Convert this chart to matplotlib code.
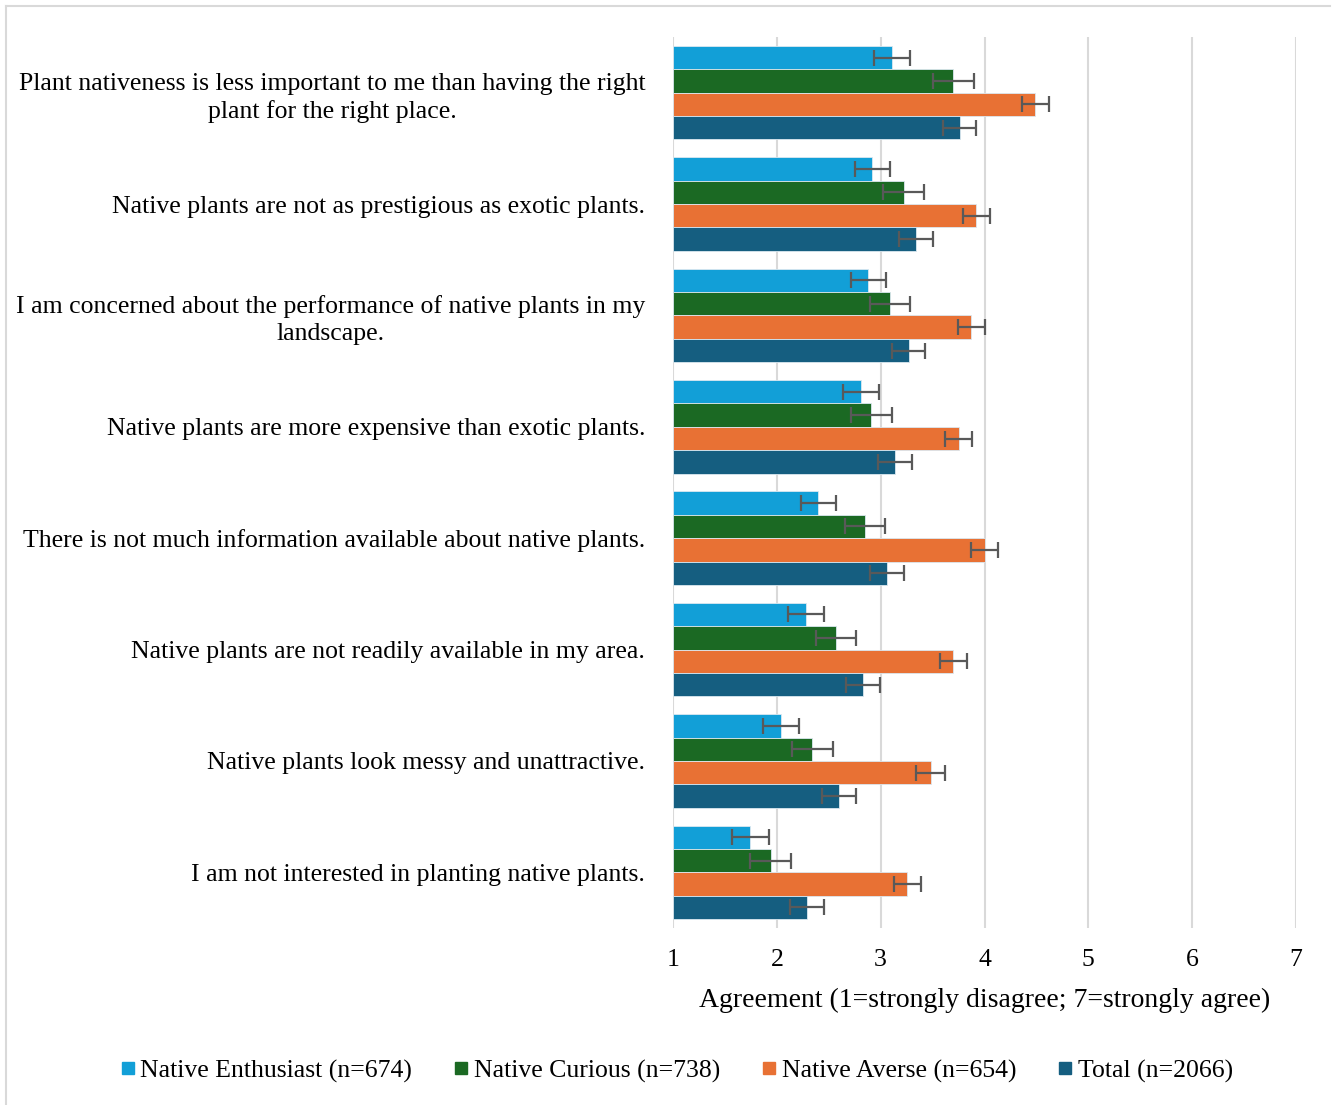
import matplotlib
matplotlib.use("Agg")
import matplotlib.pyplot as plt
import numpy as np
from matplotlib.lines import Line2D

plt.rcParams['font.family'] = ['Liberation Serif', 'DejaVu Serif']

statements = [
    "Plant nativeness is less important to me than having the right\nplant for the right place.",
    "Native plants are not as prestigious as exotic plants.",
    "I am concerned about the performance of native plants in my\nlandscape.",
    "Native plants are more expensive than exotic plants.",
    "There is not much information available about native plants.",
    "Native plants are not readily available in my area.",
    "Native plants look messy and unattractive.",
    "I am not interested in planting native plants.",
]
series_names = ["Native Enthusiast (n=674)", "Native Curious (n=738)",
                "Native Averse (n=654)", "Total (n=2066)"]
enthusiast = [3.11, 2.92, 2.88, 2.81, 2.40, 2.28, 2.04, 1.745]
curious = [3.70, 3.22, 3.09, 2.91, 2.85, 2.57, 2.34, 1.94]
averse = [4.49, 3.92, 3.87, 3.75, 4.00, 3.70, 3.48, 3.255]
total = [3.76, 3.34, 3.27, 3.14, 3.06, 2.83, 2.60, 2.29]
err_enthusiast = [0.17, 0.17, 0.17, 0.17, 0.17, 0.17, 0.17, 0.175]
err_curious = [0.195, 0.195, 0.195, 0.195, 0.195, 0.195, 0.197, 0.195]
err_averse = [0.13, 0.13, 0.13, 0.13, 0.13, 0.13, 0.135, 0.13]
err_total = [0.16, 0.16, 0.16, 0.165, 0.165, 0.165, 0.167, 0.165]
x_ticks = [1, 2, 3, 4, 5, 6, 7]
x_label = "Agreement (1=strongly disagree; 7=strongly agree)"

colors = ["#129FD7", "#1B6923", "#E87134", "#155E80"]
values = [enthusiast, curious, averse, total]
errors = [err_enthusiast, err_curious, err_averse, err_total]

W, H = 1333, 1105
fig = plt.figure(figsize=(W / 100, H / 100), dpi=100)
ax = fig.add_axes([673 / W, 1 - 928 / H, (1296 - 673) / W, (928 - 37) / H])

n = len(statements)
y = np.arange(n)
bh = 0.21
for i, (vals, errs, c, name) in enumerate(zip(values, errors, colors, series_names)):
    pos = y + (i - 1.5) * bh
    widths = np.array(vals) - 1
    ax.barh(pos, widths, left=1, height=bh, color=c, edgecolor='#dbe8f0',
            linewidth=0.6, label=name, zorder=2)
    ax.errorbar(vals, pos, xerr=errs, fmt='none', ecolor='#595959',
                elinewidth=1.6, capsize=6, capthick=1.6, zorder=3)

FS = 18.5
ax.set_xlim(1, 7)
ax.set_ylim(n - 0.5, -0.5)
ax.set_xticks(x_ticks)
ax.set_xticklabels([str(t) for t in x_ticks], fontsize=FS)
ax.set_yticks(y)
ax.set_yticklabels(statements, fontsize=FS, multialignment='center', linespacing=1.28)
ax.tick_params(axis='both', length=0)
ax.tick_params(axis='y', pad=20)
ax.tick_params(axis='x', pad=15)
ax.grid(axis='x', color='#d9d9d9', linewidth=1.5, zorder=0)
ax.set_axisbelow(True)
for s in ax.spines.values():
    s.set_visible(False)
ax.set_xlabel(x_label, fontsize=20, labelpad=12)

handles = [Line2D([0], [0], marker='s', linestyle='none', markersize=8.5,
                  markerfacecolor=c, markeredgecolor=c) for c in colors]
fig.legend(handles, series_names, loc='center', bbox_to_anchor=(674 / W, 1 - 1071 / H),
           ncol=4, frameon=False, fontsize=FS, handletextpad=0.0,
           columnspacing=1.4, handlelength=1.0)

# figure border (top and left)
fig.add_artist(Line2D([6 / W, 6 / W], [0, 1 - 6 / H], transform=fig.transFigure,
                      color='#d9d9d9', linewidth=1.5))
fig.add_artist(Line2D([6 / W, 1 - 3 / W], [1 - 6 / H, 1 - 6 / H], transform=fig.transFigure,
                      color='#d9d9d9', linewidth=1.5))

fig.savefig("out.png", dpi=100)
